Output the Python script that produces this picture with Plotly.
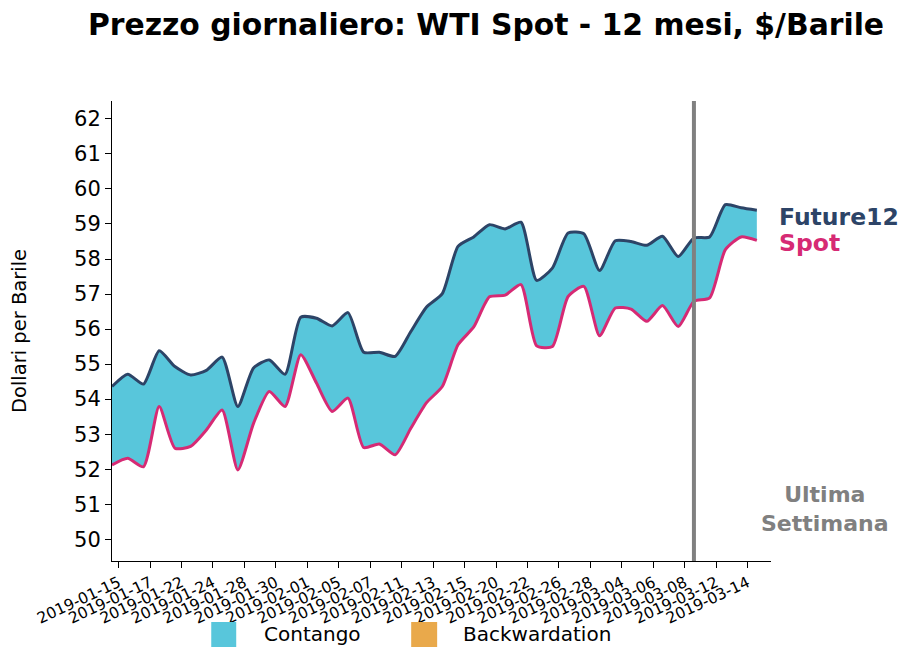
import plotly.graph_objects as go

# giorni di contrattazione
dates = [
    "2019-01-15", "2019-01-16", "2019-01-17", "2019-01-18", "2019-01-22", "2019-01-23",
    "2019-01-24", "2019-01-25", "2019-01-28", "2019-01-29", "2019-01-30", "2019-01-31",
    "2019-02-01", "2019-02-04", "2019-02-05", "2019-02-06", "2019-02-07", "2019-02-08",
    "2019-02-11", "2019-02-12", "2019-02-13", "2019-02-14", "2019-02-15", "2019-02-19",
    "2019-02-20", "2019-02-21", "2019-02-22", "2019-02-25", "2019-02-26", "2019-02-27",
    "2019-02-28", "2019-03-01", "2019-03-04", "2019-03-05", "2019-03-06", "2019-03-07",
    "2019-03-08", "2019-03-11", "2019-03-12", "2019-03-13", "2019-03-14", "2019-03-15",
]

future12 = [
    54.36, 54.71, 54.43, 55.38, 54.93, 54.69, 54.82, 55.20, 53.79, 54.89, 55.12, 54.71,
    56.34, 56.31, 56.09, 56.47, 55.34, 55.34, 55.22, 55.93, 56.63, 57.01, 58.36, 58.63,
    58.98, 58.86, 59.05, 57.39, 57.74, 58.74, 58.72, 57.67, 58.52, 58.50, 58.39, 58.65,
    58.07, 58.60, 58.63, 59.55, 59.46, 59.39,
]

spot = [
    52.12, 52.31, 52.07, 53.79, 52.60, 52.65, 53.12, 53.69, 51.98, 53.31, 54.22, 53.79,
    55.27, 54.46, 53.65, 54.03, 52.62, 52.72, 52.41, 53.17, 53.90, 54.36, 55.55, 56.06,
    56.92, 56.97, 57.27, 55.52, 55.50, 56.93, 57.22, 55.81, 56.60, 56.57, 56.22, 56.67,
    56.07, 56.79, 56.89, 58.27, 58.63, 58.53,
]

tick_dates = dates[0:41:2]
last_week_start = "2019-03-11"

legend_labels = ["Contango", "Backwardation"]

c_future = "#2D4467"
c_spot = "#D62A74"
c_contango = "#58C6DB"
c_backw = "#E9A94B"

# posizione numerica dei giorni sull'asse (solo giorni di borsa)
xs = list(range(len(dates)))
tick_pos = [dates.index(d) + 0.42 for d in tick_dates]  # nel grafico originale le tacche sono spostate

fig = go.Figure()

fig.add_trace(go.Scatter(
    x=xs, y=spot, mode="lines", name="Spot",
    line=dict(color=c_spot, width=3, shape="spline", smoothing=0.6),
))
fig.add_trace(go.Scatter(
    x=xs, y=future12, mode="lines", name="Future12",
    line=dict(color=c_future, width=3, shape="spline", smoothing=0.6),
    fill="tonexty", fillcolor=c_contango,
))

x_lw = dates.index(last_week_start)
fig.add_shape(
    type="line", xref="x", yref="paper",
    x0=x_lw, x1=x_lw, y0=0, y1=1,
    line=dict(color="#808080", width=4),
)

# legenda disegnata a mano (quadrati grandi come nel riferimento)
for x0, x1, xt, label, col in [
    (0.1506, 0.1885, 0.228, legend_labels[0], c_contango),
    (0.454, 0.4934, 0.5298, legend_labels[1], c_backw),
]:
    fig.add_shape(
        type="rect", xref="paper", yref="paper",
        x0=x0, x1=x1, y0=-0.187, y1=-0.1326,
        fillcolor=col, line=dict(width=0),
    )
    fig.add_annotation(
        x=xt, y=-0.1587, xref="paper", yref="paper", xanchor="left", yanchor="middle",
        text=label, showarrow=False, font=dict(size=20, color="black"),
    )

fig.add_annotation(
    x=1.009, y=0.748, xref="paper", yref="paper", xanchor="left", yanchor="middle",
    text="<b>Future12</b>", showarrow=False,
    font=dict(size=23.5, color=c_future),
)
fig.add_annotation(
    x=1.009, y=0.691, xref="paper", yref="paper", xanchor="left", yanchor="middle",
    text="<b>Spot</b>", showarrow=False,
    font=dict(size=23.5, color=c_spot),
)
fig.add_annotation(
    x=1.082, y=0.113, xref="paper", yref="paper", xanchor="center", yanchor="middle",
    text="<b>Ultima<br>Settimana</b>", showarrow=False,
    font=dict(size=22, color="#808080"),
)

# la pagina ha 8px di margine: la figura è 903x648
fig.update_layout(
    width=903, height=648,
    margin=dict(l=104, r=140, t=93, b=95),
    paper_bgcolor="white", plot_bgcolor="white",
    font=dict(family="DejaVu Sans", color="black"),
    showlegend=False,
    title=dict(
        text="<b>Prezzo giornaliero: WTI Spot - 12 mesi, $/Barile</b>",
        x=478 / 903, xref="container", xanchor="center",
        y=0.975, yanchor="middle",
        font=dict(size=29.8, color="black"),
    ),
)

fig.update_xaxes(
    range=[0, 41.9], automargin=False,
    tickmode="array", tickvals=tick_pos, ticktext=tick_dates,
    tickangle=-25, tickfont=dict(size=15.5),
    showline=True, linecolor="black", linewidth=1,
    ticks="outside", ticklen=6, tickcolor="black",
    showgrid=False, zeroline=False,
)
fig.update_yaxes(
    range=[49.38, 62.51], dtick=1, automargin=False,
    tickfont=dict(size=21),
    title=dict(text="Dollari per Barile", font=dict(size=19.5), standoff=49),
    showline=True, linecolor="black", linewidth=1,
    ticks="outside", ticklen=6, tickcolor="black",
    showgrid=False, zeroline=False,
)

fig.write_html("out.html")
